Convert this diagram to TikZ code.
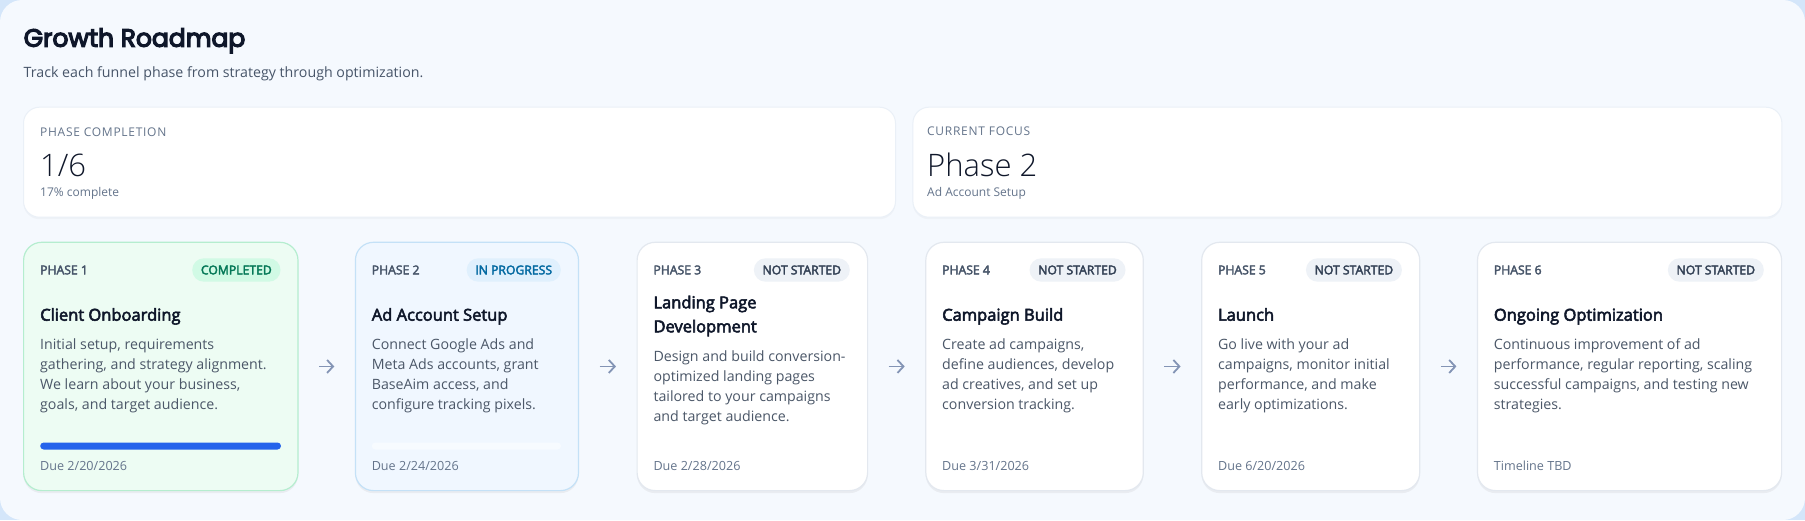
\documentclass[tikz,border=0pt]{standalone}
\usepackage{fontspec}
\setmainfont{Open Sans}
\newfontfamily\sbf{Open Sans}[FakeBold=3.2]
\IfFontExistsTF{Open Sans Light}{\newfontfamily\ltf{Open Sans Light}}{%
  \IfFontExistsTF{Fira Sans Light}{\newfontfamily\ltf{Fira Sans Light}}{%
    \IfFontExistsTF{Lato Light}{\newfontfamily\ltf{Lato Light}}{\newfontfamily\ltf{Open Sans}}}}
\newfontfamily\trk{Open Sans}[LetterSpace=6]
\newfontfamily\titlefam{Poppins}[FakeBold=5]
\usetikzlibrary{arrows.meta,shadows}
\definecolor{bgout}{HTML}{D4E6FA}
\definecolor{panelC}{HTML}{F5F9FE}
\definecolor{cTitle}{HTML}{0F172A}
\definecolor{cSub}{HTML}{475569}
\definecolor{cMuted}{HTML}{64748B}
\definecolor{cDesc}{HTML}{4B5768}
\definecolor{cLabel}{HTML}{475569}
\definecolor{cBorder}{HTML}{E3E8EF}
\definecolor{cStatBorder}{HTML}{EAF0F7}
\definecolor{gFill}{HTML}{EDFCF3}
\definecolor{gBorder}{HTML}{B5EDCF}
\definecolor{gBadge}{HTML}{D1FAE5}
\definecolor{gText}{HTML}{047857}
\definecolor{bFill}{HTML}{F0F7FF}
\definecolor{bBorder}{HTML}{C4E1F7}
\definecolor{bBadge}{HTML}{E0F0FD}
\definecolor{bText}{HTML}{0369A1}
\definecolor{nBadge}{HTML}{EEF2F7}
\definecolor{nText}{HTML}{334155}
\definecolor{barBlue}{HTML}{2563EB}
\definecolor{trackC}{HTML}{F7FBFF}
\definecolor{cArrow}{HTML}{8394B5}
\tikzset{
  txt/.style={anchor=base west, inner sep=0pt, outer sep=0pt},
  desc/.style={txt, text=cDesc, font=\fontsize{14.2}{20}\selectfont},
  ptitle/.style={txt, text=cTitle, font=\sbf\fontsize{16.5}{24}\selectfont},
  plabel/.style={txt, text=cLabel, font=\sbf\fontsize{12.2}{15}\selectfont},
  duetxt/.style={txt, text=cMuted, font=\fontsize{12.6}{17}\selectfont},
  statlbl/.style={txt, text=cMuted, font=\fontsize{12}{14}\selectfont},
  statcap/.style={txt, text=cMuted, font=\trk\fontsize{12}{14}\selectfont},
  statval/.style={txt, text=cTitle, font=\ltf\fontsize{31}{36}\selectfont},
  badge/.style={anchor=east, rounded corners=11.7pt, minimum height=23.4pt, inner xsep=8.7pt, inner ysep=0pt, font=\sbf\fontsize{12.2}{15}\selectfont},
  cardbase/.style={anchor=north west, rounded corners=18pt, line width=1.2pt, minimum height=248.3pt, inner sep=0pt,
     drop shadow={shadow xshift=0pt, shadow yshift=-2.5pt, opacity=0.07, fill=black!70}},
  plaincard/.style={cardbase, draw=cBorder, fill=white},
  greencard/.style={cardbase, draw=gBorder, fill=gFill},
  bluecard/.style={cardbase, draw=bBorder, fill=bFill},
  statcard/.style={anchor=north west, rounded corners=16pt, line width=1pt, draw=cStatBorder, fill=white, minimum height=110pt, inner sep=0pt,
     drop shadow={shadow xshift=0pt, shadow yshift=-2pt, opacity=0.04, fill=black!70}},
  arr/.style={draw=cArrow, line width=1.8pt, -{Straight Barb[length=6pt,width=13pt]}, shorten <=20.5pt, shorten >=20.5pt},
}
\newcommand{\desclines}[4]{%
  \foreach \dline [count=\k from 0] in {#4} {
    \node[desc] (#1-\k) at (#2, #3+20*\k) {\dline};
  }}
\begin{document}
\begin{tikzpicture}[x=1pt,y=-1pt]
\useasboundingbox (0,0) rectangle (1805,520);
\fill[bgout] (0,0) rectangle (1805,520);
\fill[panelC, rounded corners=22pt] (0,0) rectangle (1805,520);

% header
\node[txt, text=cTitle, font=\titlefam\fontsize{25}{30}\selectfont] (title) at (23.7,46.7) {Growth Roadmap};
\node[txt, text=cSub, font=\fontsize{14.2}{18}\selectfont] (subtitle) at (23.7,77.3) {Track each funnel phase from strategy through optimization.};

% stat cards
\node[statcard, minimum width=872pt] (s1) at (23,106.7) {};
\node[statcard, minimum width=869pt] (s2) at (912.4,106.7) {};
\node[statcap] (s1l) at (40.2,136) {PHASE COMPLETION};
\node[statval] (s1v) at (40.2,176.7) {1/6};
\node[statlbl] (s1s) at (40.2,196) {17\% complete};
\node[statcap] (s2l) at (927.2,135.7) {CURRENT FOCUS};
\node[statval] (s2v) at (927.2,176) {Phase 2};
\node[statlbl] (s2s) at (927.2,196) {Ad Account Setup};

% phase cards
\node[greencard, minimum width=274.4pt] (c1) at (23,241.7) {};
\node[bluecard, minimum width=223.1pt] (c2) at (354.8,241.7) {};
\node[plaincard, minimum width=230.5pt] (c3) at (636.5,241.7) {};
\node[plaincard, minimum width=217.5pt] (c4) at (925.2,241.7) {};
\node[plaincard, minimum width=218pt] (c5) at (1201.1,241.7) {};
\node[plaincard, minimum width=304.1pt] (c6) at (1476.9,241.7) {};

\draw[arr] (c1.east) -- (c2.west);
\draw[arr] (c2.east) -- (c3.west);
\draw[arr] (c3.east) -- (c4.west);
\draw[arr] (c4.east) -- (c5.west);
\draw[arr] (c5.east) -- (c6.west);

% card 1
\node[plabel] (p1) at (40.2,274.3) {PHASE 1};
\node[badge, fill=gBadge, text=gText] (b1) at (280.7,270) {COMPLETED};
\node[ptitle] (t1) at (40.2,320.7) {Client Onboarding};
\desclines{d1}{40.2}{349.3}{{Initial setup, requirements},{gathering, and strategy alignment.},{We learn about your business,},{goals, and target audience.}}
\fill[barBlue, rounded corners=3.5pt] (40.2,442.5) rectangle (281,449.5);
\node[duetxt] (u1) at (40.2,470.7) {Due 2/20/2026};

% card 2
\node[plabel] (p2) at (371.8,274.3) {PHASE 2};
\node[badge, fill=bBadge, text=bText] (b2) at (561,270) {IN PROGRESS};
\node[ptitle] (t2) at (371.8,320.7) {Ad Account Setup};
\desclines{d2}{371.8}{349.3}{{Connect Google Ads and},{Meta Ads accounts, grant},{BaseAim access, and},{configure tracking pixels.}}
\fill[trackC, rounded corners=3.5pt] (371.8,442.5) rectangle (561,449.5);
\node[duetxt] (u2) at (371.8,470.7) {Due 2/24/2026};

% card 3
\node[plabel] (p3) at (653.5,274.3) {PHASE 3};
\node[badge, fill=nBadge, text=nText] (b3) at (850,270) {NOT STARTED};
\node[ptitle] (t3a) at (653.5,308.3) {Landing Page};
\node[ptitle] (t3b) at (653.5,332.3) {Development};
\desclines{d3}{653.5}{361.7}{{Design and build conversion-},{optimized landing pages},{tailored to your campaigns},{and target audience.}}
\node[duetxt] (u3) at (653.5,470.7) {Due 2/28/2026};

% card 4
\node[plabel] (p4) at (942.2,274.3) {PHASE 4};
\node[badge, fill=nBadge, text=nText] (b4) at (1125.7,270) {NOT STARTED};
\node[ptitle] (t4) at (942.2,320.7) {Campaign Build};
\desclines{d4}{942.2}{349.3}{{Create ad campaigns,},{define audiences, develop},{ad creatives, and set up},{conversion tracking.}}
\node[duetxt] (u4) at (942.2,470.7) {Due 3/31/2026};

% card 5
\node[plabel] (p5) at (1218.1,274.3) {PHASE 5};
\node[badge, fill=nBadge, text=nText] (b5) at (1402.1,270) {NOT STARTED};
\node[ptitle] (t5) at (1218.1,320.7) {Launch};
\desclines{d5}{1218.1}{349.3}{{Go live with your ad},{campaigns, monitor initial},{performance, and make},{early optimizations.}}
\node[duetxt] (u5) at (1218.1,470.7) {Due 6/20/2026};

% card 6
\node[plabel] (p6) at (1493.9,274.3) {PHASE 6};
\node[badge, fill=nBadge, text=nText] (b6) at (1764,270) {NOT STARTED};
\node[ptitle] (t6) at (1493.9,320.7) {Ongoing Optimization};
\desclines{d6}{1493.9}{349.3}{{Continuous improvement of ad},{performance, regular reporting, scaling},{successful campaigns, and testing new},{strategies.}}
\node[duetxt] (u6) at (1493.9,470.7) {Timeline TBD};
\end{tikzpicture}
\end{document}
